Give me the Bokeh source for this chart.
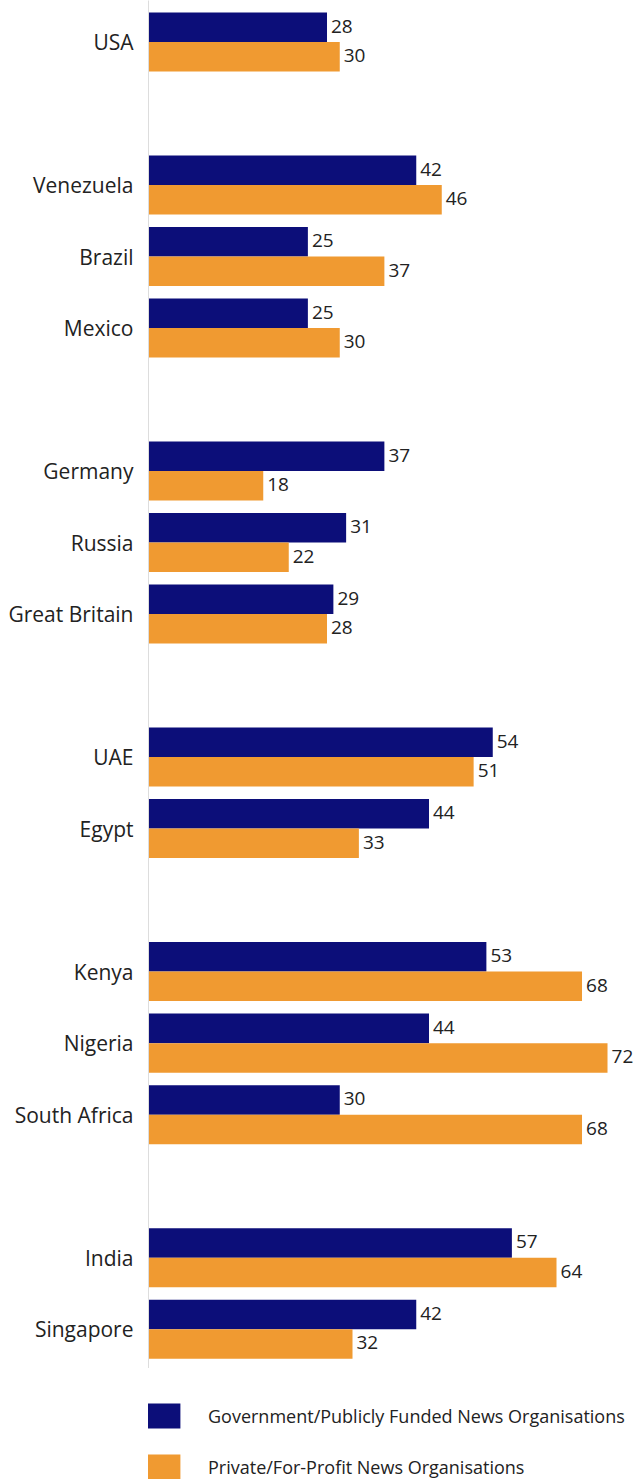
from bokeh.plotting import figure
from bokeh.layouts import column
from bokeh.models import (ColumnDataSource, Range1d, FixedTicker, Legend, LegendItem, Span)
from bokeh.core.properties import value
from bokeh.embed import file_html
from bokeh.resources import INLINE

# ---- data ----
groups = [
    ["USA"],
    ["Venezuela", "Brazil", "Mexico"],
    ["Germany", "Russia", "Great Britain"],
    ["UAE", "Egypt"],
    ["Kenya", "Nigeria", "South Africa"],
    ["India", "Singapore"],
]
government = [28, 42, 25, 25, 37, 31, 29, 54, 44, 53, 44, 30, 57, 42]
private = [30, 46, 37, 30, 18, 22, 28, 51, 33, 68, 72, 68, 64, 32]
series_names = ["Government/Publicly Funded News Organisations",
                "Private/For-Profit News Organisations"]

NAVY = "#0c0e79"
ORANGE = "#f09a31"
FONT = "Open Sans"
TXT = "#222222"

# slot positions (one empty slot between groups)
countries, slots = [], []
s = 0
for g in groups:
    for c in g:
        countries.append(c)
        slots.append(s)
        s += 1
    s += 1

half = 0.2063
src = ColumnDataSource(dict(
    country=countries,
    slot=slots,
    gov=government,
    priv=private,
    gov_y=[v - half for v in slots],
    priv_y=[v + half for v in slots],
    gov_lbl=[str(v) for v in government],
    priv_lbl=[str(v) for v in private],
))

p = figure(width=635, height=1368, output_backend="svg", toolbar_location=None,
           x_range=Range1d(0, 76.39), y_range=Range1d(18.55, -0.58),
           min_border_left=148, min_border_right=0, min_border_top=0,
           min_border_bottom=0)
p.outline_line_color = None
p.grid.visible = False
p.xaxis.visible = False

p.hbar(y="gov_y", right="gov", left=0, height=2 * half, source=src,
       fill_color=NAVY, line_color=None)
p.hbar(y="priv_y", right="priv", left=0, height=2 * half, source=src,
       fill_color=ORANGE, line_color=None)

p.text(x="gov", y="gov_y", text="gov_lbl", source=src, x_offset=4, y_offset=-1,
       text_baseline="middle", text_align="left", text_font=value(FONT),
       text_font_size="19px", text_color=TXT)
p.text(x="priv", y="priv_y", text="priv_lbl", source=src, x_offset=4, y_offset=-1,
       text_baseline="middle", text_align="left", text_font=value(FONT),
       text_font_size="19px", text_color=TXT)

# bottom baseline of the plot area
p.add_layout(Span(location=p.y_range.start, dimension="width",
                  line_color="#e3e3e3", line_width=1))

# y axis
ya = p.yaxis[0]
ya.ticker = FixedTicker(ticks=slots)
ya.major_label_overrides = {v: c for v, c in zip(slots, countries)}
ya.major_tick_out = 0
ya.major_tick_in = 0
ya.minor_tick_out = 0
ya.minor_tick_in = 0
ya.major_label_standoff = 15
ya.major_label_text_font = FONT
ya.major_label_text_font_size = "21px"
ya.major_label_text_color = TXT
ya.axis_line_color = "#dddddd"

# ---- legend strip ----
lg = figure(width=635, height=111, output_backend="svg", toolbar_location=None,
            x_range=Range1d(0, 1), y_range=Range1d(0, 1),
            min_border_left=0, min_border_right=0, min_border_top=0,
            min_border_bottom=0)
lg.outline_line_color = None
lg.grid.visible = False
lg.axis.visible = False
lr_gov = lg.hbar(y="gov_y", right="gov", left=0, height=2 * half, source=src,
                 fill_color=NAVY, line_color=None, visible=False)
lr_priv = lg.hbar(y="priv_y", right="priv", left=0, height=2 * half, source=src,
                  fill_color=ORANGE, line_color=None, visible=False)

legend = Legend(items=[LegendItem(label=series_names[0], renderers=[lr_gov]),
                       LegendItem(label=series_names[1], renderers=[lr_priv])],
                location=(-5, -3), orientation="vertical",
                glyph_width=41, glyph_height=31, spacing=20, label_standoff=24,
                padding=0, margin=0, border_line_color=None,
                background_fill_alpha=0, inactive_fill_alpha=0,
                label_text_font=FONT, label_text_font_size="18px",
                label_text_color=TXT, label_height=31)
lg.add_layout(legend, "center")

layout = column(p, lg, spacing=0)
open("out.html", "w").write(file_html(layout, INLINE))
